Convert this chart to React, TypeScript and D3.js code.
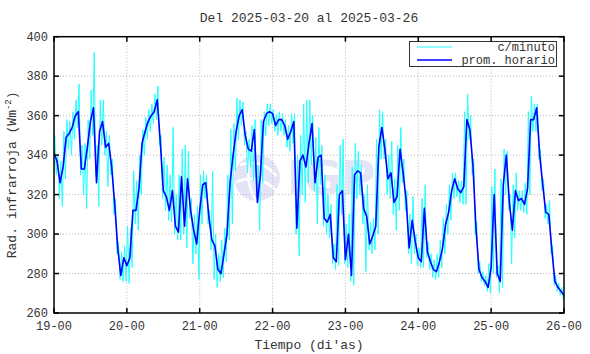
import * as d3 from "d3";
import { useEffect, useRef } from "react";

// hourly means, 19-00 .. 26-00 (169 points)
const hourly = [
	341, 337, 326, 334, 349, 351, 354, 360, 362, 333, 333, 344, 357, 364, 326, 352, 357, 344, 346, 334, 315, 293, 279, 288,
	284, 288, 312, 312, 323, 346, 352, 357, 360, 362, 368, 347, 322, 319, 312, 322, 304, 301, 329, 304, 328, 312, 302, 295,
	312, 325, 326, 309, 297, 294, 282, 280, 290, 300, 326, 340, 352, 360, 363, 350, 343, 342, 353, 316, 330, 357, 361, 362,
	361, 355, 358, 358, 355, 348, 352, 357, 303, 337, 340, 334, 346, 356, 326, 339, 340, 308, 306, 310, 288, 286, 320, 322,
	287, 300, 279, 330, 332, 331, 313, 309, 295, 299, 304, 344, 354, 343, 328, 331, 316, 319, 343, 331, 317, 293, 307, 296,
	288, 286, 313, 291, 286, 282, 281, 286, 293, 305, 311, 322, 328, 323, 321, 324, 358, 353, 335, 303, 282, 278, 276, 273,
	283, 320, 280, 276, 325, 340, 316, 302, 322, 317, 318, 315, 323, 358, 358, 364, 340, 325, 311, 310, 292, 276, 273, 271,
	269,
];

// per-minute trace, read as high / low excursion within each hour
const minuteHigh = [
	350, 340, 337, 352, 358, 357, 362, 368, 376, 345, 346, 358, 373, 392, 345, 368, 368, 352, 350, 338, 318, 296, 291, 294,
	304, 303, 332, 327, 340, 353, 359, 363, 366, 371, 375, 350, 339, 335, 330, 354, 320, 330, 343, 345, 342, 318, 310, 314,
	330, 332, 330, 312, 332, 300, 290, 297, 303, 330, 353, 356, 369, 368, 367, 352, 348, 355, 358, 335, 358, 362, 366, 366,
	363, 361, 362, 361, 358, 355, 361, 361, 340, 350, 366, 368, 368, 360, 349, 354, 345, 330, 320, 315, 295, 325, 345, 348,
	305, 310, 334, 346, 342, 335, 320, 325, 306, 308, 348, 363, 362, 348, 340, 347, 328, 345, 354, 338, 322, 310, 319, 300,
	293, 318, 325, 296, 290, 287, 290, 297, 308, 315, 325, 331, 331, 327, 327, 362, 371, 360, 338, 306, 286, 281, 279, 285,
	324, 333, 284, 328, 343, 342, 320, 325, 331, 322, 322, 326, 362, 370, 366, 366, 343, 328, 315, 317, 294, 279, 275, 273,
];
const minuteLow = [
	330, 318, 314, 328, 343, 340, 348, 354, 330, 320, 313, 338, 350, 330, 314, 345, 340, 324, 330, 310, 290, 277, 276, 276,
	275, 283, 305, 302, 320, 340, 348, 352, 356, 358, 345, 318, 312, 307, 306, 300, 297, 297, 300, 293, 308, 285, 290, 277,
	305, 318, 305, 292, 277, 273, 276, 278, 286, 297, 305, 332, 348, 355, 345, 331, 334, 327, 318, 302, 326, 350, 355, 356,
	352, 350, 352, 350, 344, 342, 346, 300, 289, 320, 316, 326, 335, 322, 305, 325, 304, 300, 298, 285, 282, 284, 310, 285,
	283, 276, 274, 318, 320, 305, 281, 292, 290, 292, 300, 338, 338, 320, 318, 310, 302, 312, 326, 312, 290, 285, 290, 284,
	283, 283, 288, 282, 278, 277, 278, 283, 290, 300, 307, 318, 319, 316, 315, 315, 348, 330, 300, 280, 276, 274, 271, 270,
	280, 278, 270, 273, 320, 312, 285, 298, 312, 312, 311, 310, 320, 352, 352, 338, 322, 308, 305, 290, 274, 271, 269, 267,
];

const dayLabels = ["19-00", "20-00", "21-00", "22-00", "23-00", "24-00", "25-00", "26-00"];
const yTicks = [260, 280, 300, 320, 340, 360, 380, 400];
const seriesNames = ["c/minuto", "prom. horario"];

const W = 590;
const H = 354;
const left = 54;
const right = 564;
const top = 36.7;
const bottom = 313;
const MONO = "'Liberation Mono', 'DejaVu Sans Mono', monospace";

const App = () => {
	const ref = useRef<SVGSVGElement | null>(null);

	useEffect(() => {
		if (!ref.current) return;
		const svg = d3.select(ref.current);
		svg.selectAll("*").remove();

		const x = d3.scaleLinear().domain([0, 168]).range([left, right]);
		const y = d3.scaleLinear().domain([260, 400]).range([bottom, top]);

		svg.append("rect").attr("width", W).attr("height", H).attr("fill", "white");

		// faint logo watermark
		const wm = svg.append("g");
		wm.append("circle").attr("cx", 257).attr("cy", 178).attr("r", 23).attr("fill", "#e4e4f6");
		wm.append("path")
			.attr("d", "M240,165 Q262,158 276,176 M236,182 Q258,172 278,192 M250,157 Q244,180 256,201")
			.attr("fill", "none")
			.attr("stroke", "white")
			.attr("stroke-width", 2.5);
		wm.append("text")
			.attr("x", 287)
			.attr("y", 194)
			.attr("font-family", "'DejaVu Sans', sans-serif")
			.attr("font-weight", "bold")
			.attr("font-size", 46)
			.attr("fill", "#e4e4f6")
			.text("IGP");

		// grid
		const grid = svg.append("g").attr("stroke", "#b8b8b8").attr("stroke-width", 1).attr("stroke-dasharray", "1,2");
		dayLabels.forEach((_, i) => {
			if (i === 0 || i === dayLabels.length - 1) return;
			grid.append("line").attr("x1", x(i * 24)).attr("x2", x(i * 24)).attr("y1", top).attr("y2", bottom);
		});
		yTicks.slice(1, -1).forEach((v) => {
			grid.append("line").attr("x1", left).attr("x2", right).attr("y1", y(v)).attr("y2", y(v));
		});

		// data
		const clip = svg.append("clipPath").attr("id", "plot-clip");
		clip.append("rect").attr("x", left).attr("y", top).attr("width", right - left).attr("height", bottom - top);

		const minutePts: [number, number][] = [[0, hourly[0]]];
		minuteHigh.forEach((hi, h) => {
			minutePts.push([h + 0.25, hi]);
			minutePts.push([h + 0.75, minuteLow[h]]);
		});
		minutePts.push([168, hourly[168]]);

		const line = d3
			.line<[number, number]>()
			.x((d) => x(d[0]))
			.y((d) => y(d[1]));

		const plot = svg.append("g").attr("clip-path", "url(#plot-clip)");
		plot.append("path")
			.attr("d", line(minutePts))
			.attr("fill", "none")
			.attr("stroke", "#22ffff")
			.attr("stroke-width", 1);
		plot.append("path")
			.attr("d", line(hourly.map((v, i) => [i, v] as [number, number])))
			.attr("fill", "none")
			.attr("stroke", "#0000ff")
			.attr("stroke-width", 1.6)
			.attr("stroke-linejoin", "round");

		// legend
		const lg = svg.append("g");
		lg.append("rect")
			.attr("x", 409.5)
			.attr("y", 41.5)
			.attr("width", 147)
			.attr("height", 25)
			.attr("fill", "white")
			.attr("stroke", "#333")
			.attr("stroke-width", 1);
		const colors = ["#22ffff", "#0000ff"];
		seriesNames.forEach((name, i) => {
			const ly = 47 + i * 13;
			lg.append("line")
				.attr("x1", 417)
				.attr("x2", 452)
				.attr("y1", ly)
				.attr("y2", ly)
				.attr("stroke", colors[i])
				.attr("stroke-width", i === 0 ? 1 : 1.3);
			lg.append("text")
				.attr("x", 555)
				.attr("y", ly + 4)
				.attr("text-anchor", "end")
				.attr("font-family", MONO)
				.attr("font-size", 12)
				.attr("fill", "#333")
				.text(name);
		});

		// frame + ticks
		const ax = svg.append("g").attr("stroke", "black");
		ax.append("rect")
			.attr("x", left)
			.attr("y", top)
			.attr("width", right - left)
			.attr("height", bottom - top)
			.attr("fill", "none")
			.attr("stroke-width", 1.5);
		dayLabels.forEach((_, i) => {
			const xx = x(i * 24);
			ax.append("line").attr("x1", xx).attr("x2", xx).attr("y1", bottom).attr("y2", bottom - 5).attr("stroke-width", 1.5);
			ax.append("line").attr("x1", xx).attr("x2", xx).attr("y1", top).attr("y2", top + 5).attr("stroke-width", 1.5);
		});
		yTicks.forEach((v) => {
			ax.append("line").attr("x1", left).attr("x2", left + 5).attr("y1", y(v)).attr("y2", y(v)).attr("stroke-width", 1.5);
			ax.append("line").attr("x1", right).attr("x2", right - 5).attr("y1", y(v)).attr("y2", y(v)).attr("stroke-width", 1.5);
		});

		const txt = svg.append("g").attr("font-family", MONO).attr("fill", "#333");
		dayLabels.forEach((lab, i) => {
			txt.append("text")
				.attr("x", x(i * 24))
				.attr("y", bottom + 17)
				.attr("text-anchor", "middle")
				.attr("font-size", 12)
				.text(lab);
		});
		yTicks.forEach((v) => {
			txt.append("text")
				.attr("x", left - 6)
				.attr("y", y(v) + 4)
				.attr("text-anchor", "end")
				.attr("font-size", 12)
				.text(v);
		});

		txt.append("text")
			.attr("x", (left + right) / 2)
			.attr("y", 22)
			.attr("text-anchor", "middle")
			.attr("font-size", 13)
			.text("Del 2025-03-20 al 2025-03-26");
		txt.append("text")
			.attr("x", (left + right) / 2)
			.attr("y", 349)
			.attr("text-anchor", "middle")
			.attr("font-size", 13)
			.text("Tiempo (di'as)");

		const yl = txt.append("text")
			.attr("transform", `translate(16,${(top + bottom) / 2}) rotate(-90)`)
			.attr("text-anchor", "middle")
			.attr("font-size", 13);
		yl.append("tspan").text("Rad. infrarroja (Wm");
		yl.append("tspan").attr("dy", -5).attr("font-size", 9).text("-2");
		yl.append("tspan").attr("dy", 5).text(")");
	}, []);

	return (
		<div style={{ position: "absolute", left: 0, top: 0, width: W, height: H }}>
			<svg ref={ref} width={W} height={H} style={{ display: "block" }} />
		</div>
	);
};

export default App;
